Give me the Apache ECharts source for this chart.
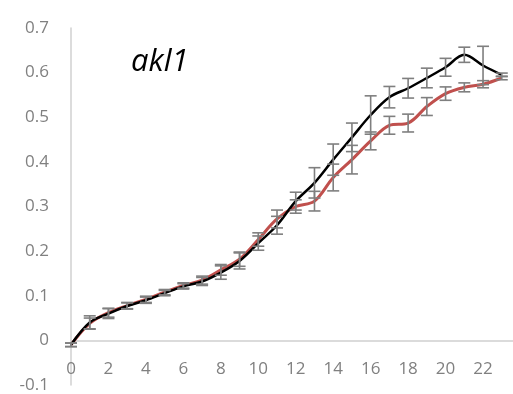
<!DOCTYPE html>
<html>
<head>
<meta charset="utf-8">
<script src="https://cdn.jsdelivr.net/npm/echarts@6/dist/echarts.min.js"></script>
<style>
  html, body { margin: 0; padding: 0; background: #ffffff; }
  #chart { width: 513px; height: 394px; }
</style>
</head>
<body>
<div id="chart"></div>
<script>
// Time points (x) and mean values for the two lines
const xValues = [0, 1, 2, 3, 4, 5, 6, 7, 8, 9, 10, 11, 12, 13, 14, 15, 16, 17, 18, 19, 20, 21, 22, 23];
const blackMean = [-0.01, 0.04, 0.06, 0.077, 0.09, 0.106, 0.121, 0.132, 0.152, 0.178, 0.218, 0.258, 0.312, 0.353, 0.405, 0.455, 0.505, 0.545, 0.565, 0.588, 0.612, 0.64, 0.616, 0.595];
const redMean   = [-0.01, 0.038, 0.062, 0.078, 0.092, 0.108, 0.123, 0.135, 0.158, 0.182, 0.226, 0.272, 0.3, 0.312, 0.365, 0.405, 0.447, 0.482, 0.487, 0.524, 0.553, 0.567, 0.574, 0.588];
// Half-length of the error bars
const blackErr  = [0.004, 0.015, 0.011, 0.007, 0.007, 0.006, 0.006, 0.009, 0.015, 0.018, 0.016, 0.02, 0.02, 0.034, 0.035, 0.032, 0.043, 0.024, 0.022, 0.022, 0.02, 0.017, 0.043, 0.004];
const redErr    = [0.004, 0.012, 0.01, 0.007, 0.007, 0.006, 0.006, 0.009, 0.012, 0.016, 0.015, 0.02, 0.015, 0.022, 0.03, 0.032, 0.02, 0.02, 0.02, 0.02, 0.015, 0.01, 0.008, 0.004];
// Axis settings
const yTicks = { min: -0.1, max: 0.7, step: 0.1 };
const xTicks = { min: 0, max: 23.6, step: 2 };
const titleText = 'akl1';

const GRID_TOP = 28, GRID_BOTTOM = 9, CHART_H = 394;

const pairs = (ys) => xValues.map((x, i) => [x, ys[i]]);
const errRows = (ys, es) => xValues.map((x, i) => [x, ys[i] - es[i], ys[i] + es[i]]);

function renderErrorBar(params, api) {
  const x = api.value(0);
  const lo = api.coord([x, api.value(1)]);
  const hi = api.coord([x, api.value(2)]);
  const half = 6;
  const style = { stroke: '#7f7f7f', lineWidth: 1.6 };
  return {
    type: 'group',
    children: [
      { type: 'line', shape: { x1: lo[0], y1: lo[1], x2: hi[0], y2: hi[1] }, style },
      { type: 'line', shape: { x1: lo[0] - half, y1: lo[1], x2: lo[0] + half, y2: lo[1] }, style },
      { type: 'line', shape: { x1: hi[0] - half, y1: hi[1], x2: hi[0] + half, y2: hi[1] }, style }
    ]
  };
}

// The horizontal axis sits on the zero line: shift it up from the grid bottom
const plotH = CHART_H - GRID_TOP - GRID_BOTTOM;
const zeroShift = plotH * (0 - yTicks.min) / (yTicks.max - yTicks.min);

const chart = echarts.init(document.getElementById('chart'), null, { renderer: 'canvas' });
const labelFont = { color: '#808080', fontSize: 17, fontFamily: 'Open Sans' };

chart.setOption({
  animation: false,
  backgroundColor: '#ffffff',
  title: {
    text: titleText,
    left: 126,
    top: 42,
    textStyle: { fontFamily: 'Open Sans', fontStyle: 'italic', fontWeight: 'normal', fontSize: 31, color: '#000000' }
  },
  grid: { left: 71, right: 0, top: GRID_TOP, bottom: GRID_BOTTOM, containLabel: false, outerBoundsMode: 'none' },
  xAxis: {
    type: 'value',
    position: 'bottom',
    offset: -zeroShift,
    min: xTicks.min,
    max: xTicks.max,
    interval: xTicks.step,
    axisLine: { onZero: false, lineStyle: { color: '#d0d0d0', width: 1.5 } },
    axisTick: { show: false },
    splitLine: { show: false },
    axisLabel: Object.assign({ margin: 20, showMaxLabel: false }, labelFont)
  },
  yAxis: {
    type: 'value',
    min: yTicks.min,
    max: yTicks.max,
    interval: yTicks.step,
    axisLine: { show: true, onZero: false, lineStyle: { color: '#d0d0d0', width: 1.5 } },
    axisTick: { show: false },
    splitLine: { show: false },
    axisLabel: Object.assign({ margin: 22, formatter: (v) => String(Math.round(v * 10) / 10) }, labelFont)
  },
  series: [
    {
      type: 'line', data: pairs(redMean), smooth: 0.35, showSymbol: false,
      lineStyle: { color: '#c0504d', width: 3 }, z: 3
    },
    {
      type: 'line', data: pairs(blackMean), smooth: 0.35, showSymbol: false,
      lineStyle: { color: '#000000', width: 2.5 }, z: 4
    },
    {
      type: 'custom', data: errRows(redMean, redErr), renderItem: renderErrorBar,
      encode: { x: 0, y: [1, 2] }, z: 5
    },
    {
      type: 'custom', data: errRows(blackMean, blackErr), renderItem: renderErrorBar,
      encode: { x: 0, y: [1, 2] }, z: 5
    }
  ]
});
</script>
</body>
</html>
